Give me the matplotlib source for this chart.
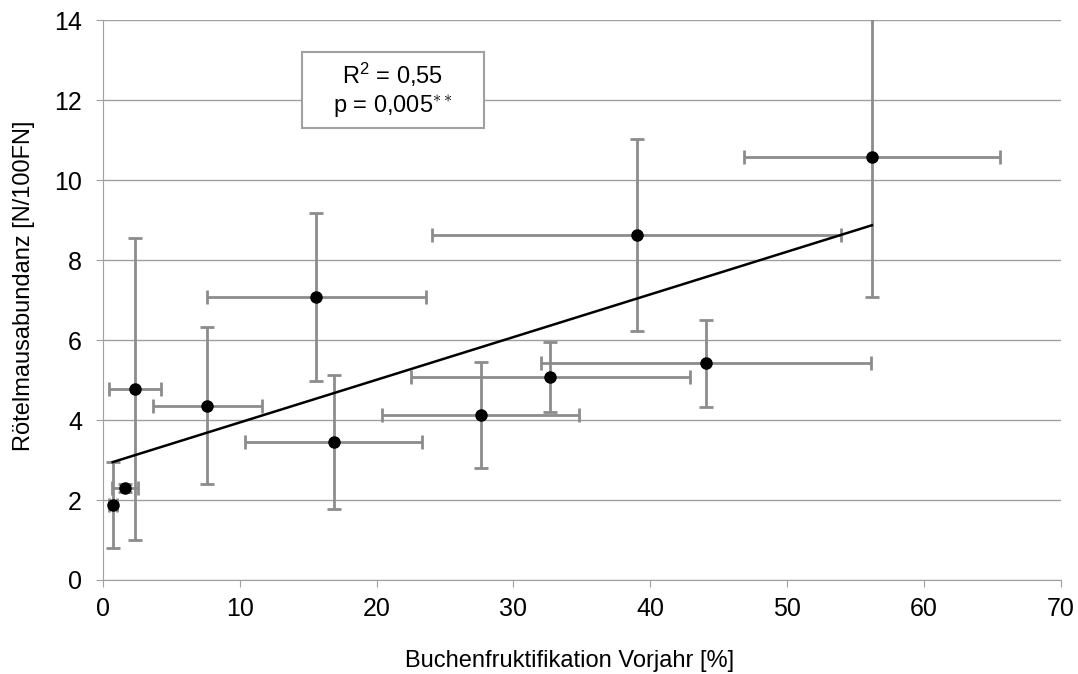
import numpy as np
import matplotlib
matplotlib.use("Agg")
import matplotlib.pyplot as plt
from matplotlib.patches import Rectangle

plt.rcParams['font.family'] = ['Liberation Sans', 'DejaVu Sans']
plt.rcParams['mathtext.fontset'] = 'custom'
plt.rcParams['mathtext.rm'] = 'Liberation Sans'
plt.rcParams['mathtext.it'] = 'Liberation Sans'

# Buchenfruktifikation (Vorjahr) und Rötelmausabundanz mit Streuung
buche = [0.71, 1.6, 2.32, 7.63, 15.6, 16.85, 27.6, 32.7, 39.0, 44.05, 56.2]
buche_err = [0.3, 0.95, 1.9, 4.0, 8.0, 6.5, 7.2, 10.2, 14.95, 12.05, 9.35]
maus = [1.87, 2.31, 4.78, 4.36, 7.08, 3.45, 4.12, 5.08, 8.63, 5.42, 10.57]
maus_err = [1.07, 0.1, 3.77, 1.96, 2.1, 1.67, 1.32, 0.87, 2.4, 1.09, 3.49]

r2_text = "R$^{2}$ = 0,55"
p_text = "p = 0,005$^{\\ast\\ast}$"

fig = plt.figure(figsize=(10.78, 6.74), dpi=100)
ax = fig.add_axes([0.0955, 0.1395, 0.8885, 0.8305])

ax.errorbar(buche, maus, xerr=buche_err, yerr=maus_err, fmt='o',
            color='black', ecolor='#8c8c8c', elinewidth=2, capsize=5,
            capthick=2, markersize=8, zorder=3)

# lineare Trendlinie
k, d = np.polyfit(buche, maus, 1)
xs = np.array([min(buche), max(buche)])
ax.plot(xs, k * xs + d, color='black', lw=1.8, zorder=4)

ax.set_xlim(0, 70)
ax.set_ylim(0, 14)
ax.set_xticks(range(0, 71, 10))
ax.set_yticks(range(0, 15, 2))
ax.yaxis.grid(True, color='#a0a0a0', lw=1)
ax.set_axisbelow(True)
for s in ['top', 'right']:
    ax.spines[s].set_visible(False)
for s in ['left', 'bottom']:
    ax.spines[s].set_color('#a0a0a0')
ax.tick_params(axis='both', colors='#a0a0a0', labelcolor='black',
               labelsize=18, length=5)
ax.tick_params(axis='x', pad=7)
ax.tick_params(axis='y', pad=10)

ax.set_xlabel("Buchenfruktifikation Vorjahr [%]", fontsize=17)
ax.xaxis.set_label_coords(0.487, -0.125)
ax.set_ylabel("Rötelmausabundanz [N/100FN]", fontsize=17)
ax.yaxis.set_label_coords(-0.071, 0.525)

# Kasten mit Bestimmtheitsmaß und Signifikanz
ax.add_patch(Rectangle((14.52, 11.3), 13.3, 1.9, fc='white', ec='#a0a0a0',
                       lw=1.5, zorder=5))
ax.text(21.17, 12.62, r2_text, fontsize=17, ha='center', va='center', zorder=6)
ax.text(21.17, 11.86, p_text, fontsize=17, ha='center', va='center', zorder=6)

fig.savefig("out.png", dpi=100)
